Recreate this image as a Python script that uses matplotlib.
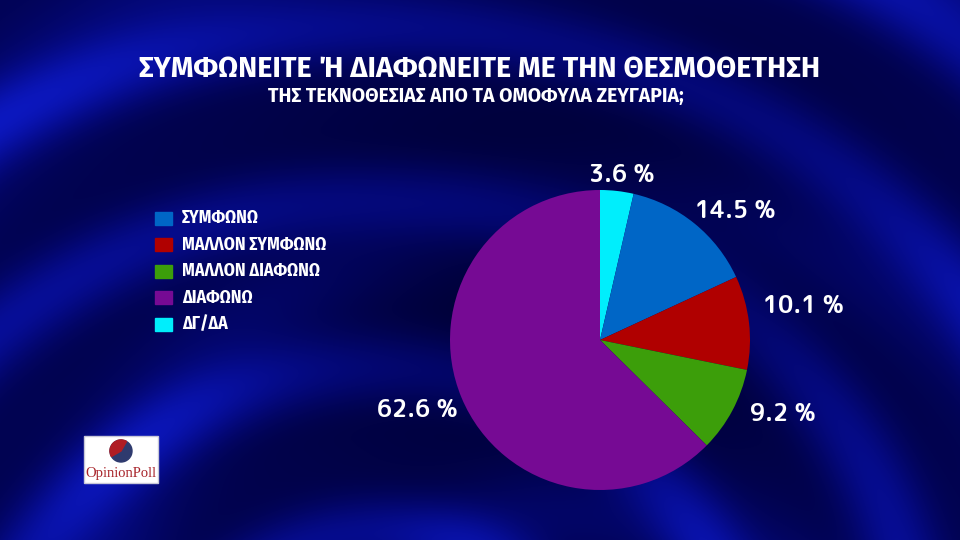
import numpy as np
import matplotlib
matplotlib.use("Agg")
import matplotlib.pyplot as plt
from matplotlib.patches import Rectangle, Wedge

# data (clockwise from 12 o'clock)
slice_labels = ["ΔΓ/ΔΑ", "ΣΥΜΦΩΝΩ", "ΜΑΛΛΟΝ ΣΥΜΦΩΝΩ", "ΜΑΛΛΟΝ ΔΙΑΦΩΝΩ", "ΔΙΑΦΩΝΩ"]
slice_values = [3.6, 14.5, 10.1, 9.2, 62.6]
slice_colors = ["#00eefc", "#0066c6", "#b00000", "#3c9e0a", "#760a94"]
legend_order = ["ΣΥΜΦΩΝΩ", "ΜΑΛΛΟΝ ΣΥΜΦΩΝΩ", "ΜΑΛΛΟΝ ΔΙΑΦΩΝΩ", "ΔΙΑΦΩΝΩ", "ΔΓ/ΔΑ"]

title1 = "ΣΥΜΦΩΝΕΙΤΕ Ή ΔΙΑΦΩΝΕΙΤΕ ΜΕ ΤΗΝ ΘΕΣΜΟΘΕΤΗΣΗ"
title2 = "ΤΗΣ ΤΕΚΝΟΘΕΣΙΑΣ ΑΠΟ ΤΑ ΟΜΟΦΥΛΑ ΖΕΥΓΑΡΙΑ;"

title_font = ["Fira Sans", "DejaVu Sans"]
cond_font = ["Fira Sans Condensed", "Roboto Condensed", "DejaVu Sans"]
num_font = ["Rounded Mplus 1c Bold", "Baloo 2", "DejaVu Sans"]

W, H = 960, 540
fig = plt.figure(figsize=(9.6, 5.4), dpi=100)
ax = fig.add_axes([0, 0, 1, 1])

# background: blue with dark curved streaks
yy, xx = np.mgrid[0:H, 0:W].astype(float)
theta = np.arctan2(yy - 720, xx - 480)
d = np.hypot(xx - 480, (yy - 720) * 1.1)
pat = 0.5 + 0.5 * np.sin(d / 30 + 3.0 * theta)
pat2 = 0.5 + 0.5 * np.sin(d / 55 - 2.0 * theta + 1.0)
b = 0.4 + 0.45 * pat ** 2 + 0.25 * pat2 ** 3
dark = np.exp(-(((xx - 560) / 330) ** 2 + ((yy - 270) / 260) ** 2))
b = b * (1 - 0.5 * dark)
img = np.zeros((H, W, 3))
img[..., 2] = np.clip(0.08 + 0.62 * b, 0, 1)
img[..., 1] = np.clip(0.08 * b ** 2, 0, 1)
img[..., 0] = np.clip(0.04 * b ** 2, 0, 1)
ax.imshow(img, extent=(0, W, 0, H), origin="upper", zorder=0, aspect="auto")

# titles
ax.text(480, 540 - 70, title1, color="white", fontsize=20.8, fontweight="bold",
        family=title_font, ha="center", va="center", zorder=5)
ax.text(476, 540 - 96, title2, color="white", fontsize=14, fontweight="bold",
        family=title_font, ha="center", va="center", zorder=5)

# pie
cx, cy, R = 600, 540 - 340, 150
wedges, _ = ax.pie(slice_values, colors=slice_colors, startangle=90, counterclock=False,
                   center=(cx, cy), radius=R, frame=True)
for w in wedges:
    w.set_zorder(3)

label_r = [1.10, 1.06, 1.11, 1.12, 1.06]
label_da = [-1.1, 2.5, 4.7, 1.4, 3.9]
for w, v, lr, da in zip(wedges, slice_values, label_r, label_da):
    ang = np.deg2rad((w.theta1 + w.theta2) / 2 + da)
    x = cx + lr * R * np.cos(ang)
    y = cy + lr * R * np.sin(ang)
    if np.cos(ang) > 0.3:
        ha = "left"
    elif np.cos(ang) < -0.3:
        ha = "right"
    else:
        ha = "center"
    ax.text(x, y, f"{v:.1f} %", color="white", fontsize=17, fontweight="heavy",
            family=num_font, ha=ha, va="center", zorder=5)

# legend
color_of = dict(zip(slice_labels, slice_colors))
for i, name in enumerate(legend_order):
    ly = 540 - (218 + i * 26.5)
    ax.add_patch(Rectangle((155, ly - 6.5), 17, 13, color=color_of[name], zorder=5))
    ax.text(182, ly, name, color="white", fontsize=12.8, fontweight="bold",
            family=cond_font, ha="left", va="center", zorder=5)

# logo
ax.add_patch(Rectangle((84, 540 - 483), 74, 47, facecolor="white",
                       edgecolor="#c8c8d8", lw=1, zorder=5))
ax.add_patch(Wedge((121, 540 - 451), 11, 0, 360, color="#2e3a6e", zorder=6))
ax.add_patch(Wedge((121, 540 - 451), 11, 60, 210, color="#b01c24", zorder=7))
ax.text(121, 540 - 473, "OpinionPoll", color="#a8242a", fontsize=10.5,
        family="Liberation Serif", ha="center", va="center", zorder=7)

ax.set_xlim(0, W)
ax.set_ylim(0, H)
ax.set_aspect("auto")
ax.axis("off")

fig.savefig("out.png", dpi=100)
